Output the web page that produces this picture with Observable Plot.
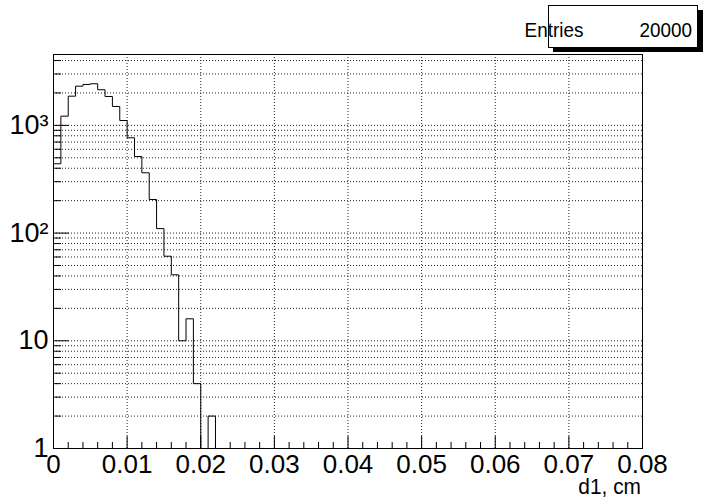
<!DOCTYPE html>
<html><head><meta charset="utf-8">
<script src="https://cdn.jsdelivr.net/npm/d3@7"></script>
<script src="https://cdn.jsdelivr.net/npm/@observablehq/plot@0.6"></script>
<style>
body{margin:0;background:#fff}
#chart{position:relative;width:703px;height:499px}
</style>
</head><body><div id="chart"></div>
<script>
// ---- data ----
const binWidth = 0.001;               // cm per bin, bins start at 0
const counts = [440, 1218, 1867, 2312, 2398, 2434, 2142, 1855, 1498, 1110, 767, 514,
                363, 205, 110, 61, 41, 10, 16, 4, 0, 2];
const entries = 20000;
const xTickValues = [0, 0.01, 0.02, 0.03, 0.04, 0.05, 0.06, 0.07, 0.08];
const xTickLabels = ["0", "0.01", "0.02", "0.03", "0.04", "0.05", "0.06", "0.07", "0.08"];
const yLabelValues = [1, 10, 100, 1000];
const yLabelTexts = ["1", "10", "10²", "10³"];
const xLabel = "d1, cm";
const xDomain = [0, 0.08];
const yDomain = [1, 4550];

// ---- layout ----
const W = 703, H = 499, mL = 53, mR = 61, mT = 54, mB = 51;
const fw = W - mL - mR, fh = H - mT - mB;
const font = "'Liberation Sans', Arial, Helvetica, sans-serif";

// outline of histogram (ROOT style, zero bins drop to the bottom of the log frame)
const pts = [{x: 0, y: yDomain[0]}];
counts.forEach((c, i) => {
  const v = Math.max(c, yDomain[0]);
  pts.push({x: i * binWidth, y: v}, {x: (i + 1) * binWidth, y: v});
});
pts.push({x: counts.length * binWidth, y: yDomain[0]}, {x: xDomain[1], y: yDomain[0]});

// axis tick sets
const xMajor = xTickValues.slice(1, -1);
const xMinor = d3.range(0, 41).map(i => i * 0.002).filter(v => v > 0 && v < 0.08 && Math.round(v * 1000) % 10 !== 0);
const yAll = [];
[1, 10, 100, 1000].forEach(d => { for (let k = 1; k <= 9; k++) { const v = d * k; if (v <= yDomain[1]) yAll.push(v); } });
const yMajor = yAll.filter(v => [10, 100, 1000].includes(v));
const yMinor = yAll.filter(v => v > 1 && ![10, 100, 1000].includes(v));
const yGrid = yAll.filter(v => v > 1);

const dotted = {stroke: "#222", strokeWidth: 1, strokeDasharray: "1,2"};

const plot = Plot.plot({
  width: W, height: H,
  marginLeft: mL, marginRight: mR, marginTop: mT, marginBottom: mB,
  style: {fontFamily: font, background: "#fff", color: "#000"},
  x: {domain: xDomain},
  y: {type: "log", domain: yDomain},
  marks: [
    Plot.ruleX(xMajor, {...dotted}),
    Plot.ruleY(yGrid, {...dotted}),
    Plot.ruleX(xMajor, {stroke: "#000", insetTop: fh - 12}),
    Plot.ruleX(xMinor, {stroke: "#000", insetTop: fh - 6}),
    Plot.ruleY(yMajor, {stroke: "#000", insetRight: fw - 16}),
    Plot.ruleY(yMinor, {stroke: "#000", insetRight: fw - 8}),
    Plot.line(pts, {x: "x", y: "y", stroke: "#000", strokeWidth: 1}),
    Plot.frame({stroke: "#000"}),
    Plot.axisX({ticks: xTickValues, tickFormat: d => xTickLabels[xTickValues.indexOf(d)],
      tickSize: 0, tickPadding: 6, fontSize: 26, label: null}),
    Plot.axisY({ticks: yLabelValues, tickFormat: d => yLabelTexts[yLabelValues.indexOf(d)],
      tickSize: 0, tickPadding: 5, fontSize: 27, label: null})
  ]
});
document.getElementById("chart").appendChild(plot);

// x axis title and statistics box
const svg = d3.select(plot);
svg.append("text").attr("transform", "translate(641,494) scale(0.95,1)").attr("text-anchor", "end")
  .attr("font-family", font).attr("font-size", 22).attr("fill", "#000").text(xLabel);
const box = svg.append("g");
box.append("rect").attr("x", 553).attr("y", 10).attr("width", 150).attr("height", 42).attr("fill", "#000");
box.append("rect").attr("x", 548.5).attr("y", 5.5).attr("width", 149).attr("height", 42)
  .attr("fill", "#fff").attr("stroke", "#000");
box.append("text").attr("transform", "translate(554,37) scale(0.9,1)").attr("font-family", font)
  .attr("font-size", 21).attr("fill", "#000").text("Entries");
box.append("text").attr("transform", "translate(692,37) scale(0.9,1)").attr("text-anchor", "end")
  .attr("font-family", font).attr("font-size", 21).attr("fill", "#000").text(String(entries));
</script>
</body></html>
